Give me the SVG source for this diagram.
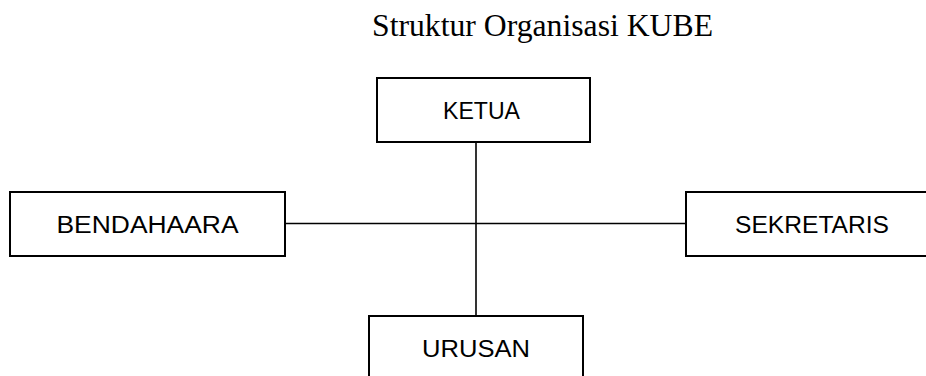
<svg xmlns="http://www.w3.org/2000/svg" width="926" height="376" viewBox="0 0 926 376">
<style>
.box{fill:#fff;stroke:#000;stroke-width:2}
.lbl{font-family:"Liberation Sans",Arial,sans-serif;font-size:23.5px;fill:#000;text-anchor:middle}
.title{font-family:"Liberation Serif","Times New Roman",serif;font-size:31.5px;fill:#000}
.conn{stroke:#000;stroke-width:1.6;fill:none}
</style>
<rect width="926" height="376" fill="#fff"/>
<text class="title" x="372" y="36" textLength="341" lengthAdjust="spacingAndGlyphs">Struktur Organisasi KUBE</text>
<g id="connectors">
<line class="conn" x1="476" y1="142" x2="476" y2="316"/>
<line class="conn" x1="285" y1="223.5" x2="686" y2="223.5"/>
</g>
<g id="ketua">
<rect class="box" x="377" y="78" width="213" height="64"/>
<text class="lbl" x="481.5" y="118.5" textLength="77" lengthAdjust="spacingAndGlyphs">KETUA</text>
</g>
<g id="bendahaara">
<rect class="box" x="10" y="192" width="275" height="64"/>
<text class="lbl" x="147.5" y="232.5" textLength="182" lengthAdjust="spacingAndGlyphs">BENDAHAARA</text>
</g>
<g id="sekretaris">
<rect class="box" x="686" y="192" width="245" height="64"/>
<text class="lbl" x="812" y="232.5" textLength="154" lengthAdjust="spacingAndGlyphs">SEKRETARIS</text>
</g>
<g id="urusan">
<rect class="box" x="369" y="316" width="214" height="70"/>
<text class="lbl" x="476" y="356.5" textLength="108" lengthAdjust="spacingAndGlyphs">URUSAN</text>
</g>
</svg>
